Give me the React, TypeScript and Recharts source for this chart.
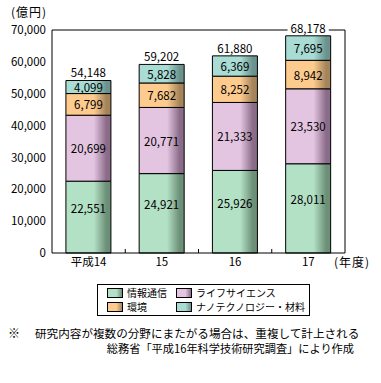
import { BarChart, Bar, XAxis, YAxis, LabelList, ReferenceLine } from 'recharts';

const FONT = '"Noto Sans CJK JP", "Noto Sans", sans-serif';

// 年度
const categories = ['平成14', '15', '16', '17'];
// 億円
const infoComm = [22551, 24921, 25926, 28011];
const lifeScience = [20699, 20771, 21333, 23530];
const environment = [6799, 7682, 8252, 8942];
const nanoMaterial = [4099, 5828, 6369, 7695];
const totals = [54148, 59202, 61880, 68178];
const yTicks = [0, 10000, 20000, 30000, 40000, 50000, 60000, 70000];

const seriesKeys = ['info', 'life', 'env', 'nano'];
const seriesNames = ['情報通信', 'ライフサイエンス', '環境', 'ナノテクノロジー・材料'];
const fills = ['#b3e1c5', '#e3c5e1', '#fdcb8d', '#a8dcd4'];
const shades = ['#6c8f78', '#8a6c88', '#a5845a', '#6b928c'];

const data = categories.map((name, i) => ({
  name,
  info: infoComm[i],
  life: lifeScience[i],
  env: environment[i],
  nano: nanoMaterial[i],
  total: totals[i],
}));

const fmt = (v: unknown) => Number(v).toLocaleString('en-US');

const XTick = (props: any) => {
  const { x, y, payload } = props;
  return (
    <text x={x} y={Number(y) + 13} textAnchor="middle" fontSize={11.5} fontFamily={FONT} fill="#000">
      {payload.value}
    </text>
  );
};

// short inward tick at the left boundary of a category
const BoundaryTick = (props: any) => {
  const { x1, y1, y2 } = props;
  const bottom = Math.max(Number(y1), Number(y2));
  return <path d={`M${x1},${bottom}V${bottom - 4}`} stroke="#000" strokeWidth={1} fill="none" />;
};

const segLabel = (dy: number) => (props: any) => {
  const { x, y, width, height, value } = props;
  return (
    <text
      x={Number(x) + Number(width) / 2}
      y={Number(y) + Number(height) / 2 + dy}
      textAnchor="middle"
      dominantBaseline="central"
      fontSize={11.5}
      fontFamily={FONT}
      fill="#000"
    >
      {fmt(value)}
    </text>
  );
};

const TotalLabel = (props: any) => {
  const { x, y, width, value } = props;
  const cx = Number(x) + Number(width) / 2;
  const cy = Number(y) - 8;
  const text = fmt(value);
  const w = text.length * 6.2 + 4;
  return (
    <g>
      <rect x={cx - w / 2} y={cy - 7} width={w} height={14} fill="#fff" />
      <text x={cx} y={cy} textAnchor="middle" dominantBaseline="central" fontSize={11.5} fontFamily={FONT} fill="#000">
        {text}
      </text>
    </g>
  );
};

function Swatch({ i }: { i: number }) {
  return (
    <span
      style={{
        display: 'inline-block',
        width: 14,
        height: 8,
        border: '1px solid #000',
        background: `linear-gradient(to right, ${fills[i]} 0%, ${fills[i]} 60%, ${shades[i]} 100%)`,
        marginRight: 4,
        verticalAlign: 'middle',
      }}
    />
  );
}

function ChartLegend() {
  const cell = (i: number, left: number, top: number) => (
    <div style={{ position: 'absolute', left, top, display: 'flex', alignItems: 'center', whiteSpace: 'nowrap' }}>
      <Swatch i={i} />
      <span>{seriesNames[i]}</span>
    </div>
  );
  return (
    <div
      style={{
        position: 'absolute',
        left: 97,
        top: 284,
        width: 211,
        height: 30,
        border: '1px solid #000',
        fontSize: 10,
        fontFamily: FONT,
        lineHeight: '12px',
      }}
    >
      {cell(0, 9, 2)}
      {cell(1, 78, 2)}
      {cell(2, 9, 16)}
      {cell(3, 78, 16)}
    </div>
  );
}

export default function App() {
  return (
    <div style={{ position: 'absolute', left: 0, top: 0, width: 381, height: 383, background: '#fff', fontFamily: FONT, color: '#000' }}>
      <div style={{ position: 'absolute', left: 11, top: 6, fontSize: 12, lineHeight: '12px', letterSpacing: 1 }}>(億円)</div>
      <div style={{ position: 'absolute', left: 334, top: 255, fontSize: 12, lineHeight: '14px', letterSpacing: 1 }}>(年度)</div>
      <BarChart width={381} height={280} data={data} margin={{ top: 30, right: 36, left: 0, bottom: 7 }} barCategoryGap="19%">
        <defs>
          {seriesKeys.map((k, i) => (
            <linearGradient key={k} id={`grad-${k}`} x1="0" y1="0" x2="1" y2="0">
              <stop offset="0" stopColor={fills[i]} />
              <stop offset="0.62" stopColor={fills[i]} />
              <stop offset="0.9" stopColor={shades[i]} />
              <stop offset="1" stopColor={shades[i]} />
            </linearGradient>
          ))}
        </defs>
        <XAxis
          dataKey="name"
          height={20}
          interval={0}
          tickLine={false}
          tickSize={0}
          tickMargin={0}
          axisLine={{ stroke: '#000' }}
          tick={<XTick />}
        />
        <YAxis
          domain={[0, 70000]}
          ticks={yTicks}
          width={52}
          tickLine={false}
          tickSize={6}
          tickMargin={0}
          axisLine={{ stroke: '#000' }}
          tickFormatter={fmt}
          tick={{ fontSize: 11.5, fill: '#000', fontFamily: FONT }}
        />
        <ReferenceLine y={70000} stroke="#000" />
        <ReferenceLine x={categories[categories.length - 1]} position="end" stroke="#000" />
        {categories.slice(1).map((c) => (
          <ReferenceLine key={c} x={c} position="start" stroke="#000" shape={<BoundaryTick />} />
        ))}
        {seriesKeys.map((k, i) => (
          <Bar
            key={k}
            dataKey={k}
            name={seriesNames[i]}
            stackId="a"
            fill={`url(#grad-${k})`}
            stroke="#000"
            strokeWidth={1}
            isAnimationActive={false}
          >
            <LabelList dataKey={k} content={segLabel(k === 'info' ? -9 : 0)} />
            {k === 'nano' && <LabelList dataKey="total" content={<TotalLabel />} />}
          </Bar>
        ))}
      </BarChart>
      <ChartLegend />
      <div style={{ position: 'absolute', left: 8, top: 326, fontSize: 12, lineHeight: '14px', whiteSpace: 'nowrap' }}>※</div>
      <div style={{ position: 'absolute', left: 35, top: 326, fontSize: 11.6, lineHeight: '14px', whiteSpace: 'nowrap' }}>
        研究内容が複数の分野にまたがる場合は、重複して計上される
      </div>
      <div style={{ position: 'absolute', right: 27, top: 341, fontSize: 11.2, lineHeight: '14px', whiteSpace: 'nowrap' }}>
        総務省「平成16年科学技術研究調査」により作成
      </div>
    </div>
  );
}
